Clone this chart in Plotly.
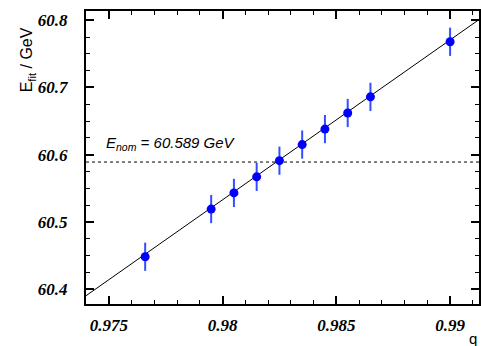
import plotly.graph_objects as go

# data
q_vals = [0.9766, 0.9795, 0.9805, 0.9815, 0.9825, 0.9835, 0.9845, 0.9855, 0.9865, 0.9900]
e_fit = [60.448, 60.519, 60.543, 60.567, 60.591, 60.615, 60.638, 60.662, 60.686, 60.768]
e_err = [0.021, 0.021, 0.021, 0.021, 0.021, 0.021, 0.021, 0.021, 0.021, 0.021]
fit_x = [0.9740, 0.99127]
fit_y = [60.390, 60.801]
e_nom = 60.589
x_range = [0.9740, 0.99127]
y_range = [60.3777, 60.8138]
x_ticks = [0.975, 0.98, 0.985, 0.99]
x_tick_text = ["0.975", "0.98", "0.985", "0.99"]
y_ticks = [60.4, 60.5, 60.6, 60.7, 60.8]
y_tick_text = ["60.4", "60.5", "60.6", "60.7", "60.8"]

fig = go.Figure()
fig.add_trace(go.Scatter(x=fit_x, y=fit_y, mode="lines",
                         line=dict(color="black", width=1), hoverinfo="skip"))
fig.add_trace(go.Scatter(x=x_range, y=[e_nom, e_nom], mode="lines",
                         line=dict(color="black", width=1, dash="3px,3px"), hoverinfo="skip"))
fig.add_trace(go.Scatter(x=q_vals, y=e_fit, mode="markers",
                         marker=dict(color="#0000ff", size=9),
                         error_y=dict(type="data", array=e_err, color="#3050ff",
                                      thickness=2, width=0)))

common = dict(showgrid=False, zeroline=False, showline=True, linecolor="black", linewidth=2,
              mirror="allticks", ticks="inside", ticklen=8, tickwidth=2, tickcolor="black")
fig.update_xaxes(range=x_range, tickvals=x_ticks,
                 ticktext=["<b><i>%s</i></b>" % t for t in x_tick_text],
                 tickfont=dict(family="Liberation Serif", size=17, color="black",
                               weight="bold", style="italic"),
                 minor=dict(dtick=0.001, tick0=0.975, ticks="inside", ticklen=4, tickwidth=1, tickcolor="black"),
                 ticklabelstandoff=5, **common)
fig.update_yaxes(range=y_range, tickvals=y_ticks,
                 ticktext=["<b><i>%s</i></b>" % t for t in y_tick_text],
                 tickfont=dict(family="Liberation Serif", size=17, color="black",
                               weight="bold", style="italic"),
                 minor=dict(dtick=0.025, tick0=60.4, ticks="inside", ticklen=4, tickwidth=1, tickcolor="black"),
                 ticklabelstandoff=13, **common)

fig.add_annotation(x=0.9748, y=60.6, xref="x", yref="y", xanchor="left", yanchor="bottom",
                   text="<i>E<sub>nom</sub> = 60.589 GeV</i>", showarrow=False,
                   font=dict(family="Liberation Sans", size=15, color="black"))
fig.add_annotation(x=-59/395, y=(304-60)/293, xref="paper", yref="paper", textangle=-90,
                   showarrow=False, xanchor="center", yanchor="middle",
                   text="E<sub>fit</sub> / GeV", font=dict(family="Liberation Sans", size=16, color="black"))
fig.add_annotation(x=1, y=0, xref="paper", yref="paper", xanchor="right", yanchor="top",
                   yshift=-24, text="q", showarrow=False,
                   font=dict(family="Liberation Sans", size=15, color="black"))

fig.update_layout(width=481, height=346, margin=dict(l=86, r=0, t=11, b=42),
                  plot_bgcolor="white", paper_bgcolor="white", showlegend=False)
fig.write_html("out.html", config={"displayModeBar": False},
               post_script="document.body.style.margin='0px';")
